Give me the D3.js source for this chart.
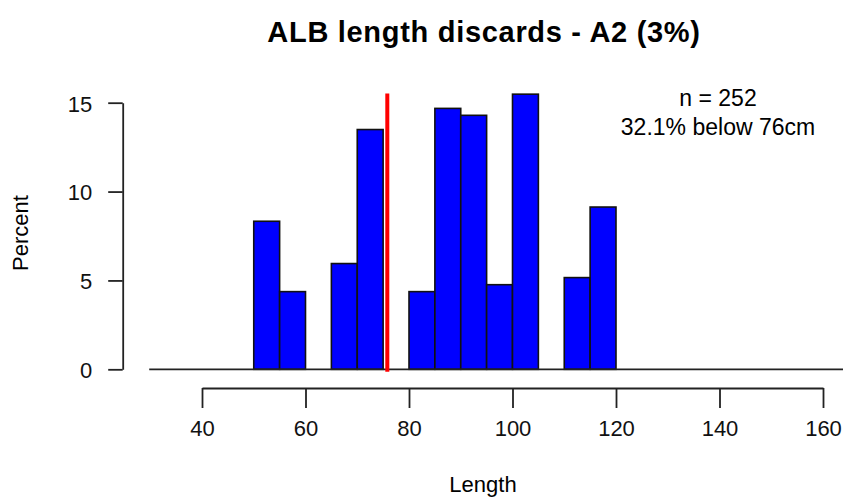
<!DOCTYPE html>
<html>
<head>
<meta charset="utf-8">
<script src="https://cdn.jsdelivr.net/npm/d3@7"></script>
<style>
  body { margin: 0; background: #fff; }
  svg { display: block; font-family: "Liberation Sans", Arial, sans-serif; }
  .axis text { font-size: 22px; fill: #111; }
  .axis path, .axis line { stroke: #222; stroke-width: 1.8; }
</style>
</head>
<body>
<svg width="843" height="502"></svg>
<script>
'use strict'

// length bins (lower edge, cm) and percent of fish in each bin
var binStarts = [50, 55, 65, 70, 80, 85, 90, 95, 100, 110, 115];
var percents = [8.33, 4.37, 5.95, 13.49, 4.37, 14.68, 14.29, 4.76, 15.48, 5.16, 9.13];
var binWidth = 5;
var xTicks = [40, 60, 80, 100, 120, 140, 160];
var yTicks = [0, 5, 10, 15];
var cutoff = 76;
var nFish = 252;
var pctBelow = 32.1;

var svg = d3.select("svg"),
  width = +svg.attr("width"),
  height = +svg.attr("height");

var x = d3.scaleLinear().domain([40, 160]).range([202, 823]),
  y = d3.scaleLinear().domain([0, 15]).range([369.3, 102.7]);

var bins = binStarts.map(function(s, i) {
  return { x0: s, x1: s + binWidth, pct: percents[i] };
});

// bars
svg.append("g")
  .selectAll("rect")
  .data(bins)
  .enter()
  .append("rect")
  .attr("x", function(d) { return x(d.x0); })
  .attr("width", function(d) { return x(d.x1) - x(d.x0); })
  .attr("y", function(d) { return y(d.pct); })
  .attr("height", function(d) { return y(0) - y(d.pct); })
  .attr("fill", "#0000ff")
  .attr("stroke", "#111")
  .attr("stroke-width", 1.6);

// zero line
svg.append("line")
  .attr("x1", x(29.8))
  .attr("x2", width)
  .attr("y1", y(0))
  .attr("y2", y(0))
  .attr("stroke", "#222")
  .attr("stroke-width", 1.8);

// cutoff line
svg.append("line")
  .attr("x1", x(cutoff) - 1)
  .attr("x2", x(cutoff) - 1)
  .attr("y1", y(d3.max(percents)) - 0.6)
  .attr("y2", y(0) + 2.4)
  .attr("stroke", "#ff0000")
  .attr("stroke-width", 4);

// axes
var xAxis = d3.axisBottom(x).tickValues(xTicks).tickSize(20).tickSizeOuter(0).tickPadding(12);
svg.append("g")
  .attr("class", "axis axis--x")
  .attr("transform", "translate(0,388)")
  .call(xAxis);

var yAxis = d3.axisLeft(y).tickValues(yTicks).tickSize(14.5).tickSizeOuter(0).tickPadding(16);
svg.append("g")
  .attr("class", "axis axis--y")
  .attr("transform", "translate(122.7,0)")
  .call(yAxis);

svg.selectAll(".axis--y text").attr("dy", "0.38em");

// title
svg.append("text")
  .attr("x", 484)
  .attr("y", 42)
  .attr("text-anchor", "middle")
  .style("font-size", "29px")
  .style("font-weight", "bold")
  .style("letter-spacing", "0.7px")
  .text("ALB length discards - A2 (3%)");

svg.append("text")
  .attr("x", 483)
  .attr("y", 492)
  .attr("text-anchor", "middle")
  .style("font-size", "22px")
  .text("Length");

svg.append("text")
  .attr("transform", "translate(28,233) rotate(-90)")
  .attr("text-anchor", "middle")
  .style("font-size", "22px")
  .text("Percent");

// annotation
var note = svg.append("text")
  .attr("text-anchor", "middle")
  .style("font-size", "23px");
note.append("tspan")
  .attr("x", 718)
  .attr("y", 106)
  .text("n = " + nFish);
note.append("tspan")
  .attr("x", 718)
  .attr("y", 135)
  .text(pctBelow + "% below " + cutoff + "cm");
</script>
</body>
</html>
